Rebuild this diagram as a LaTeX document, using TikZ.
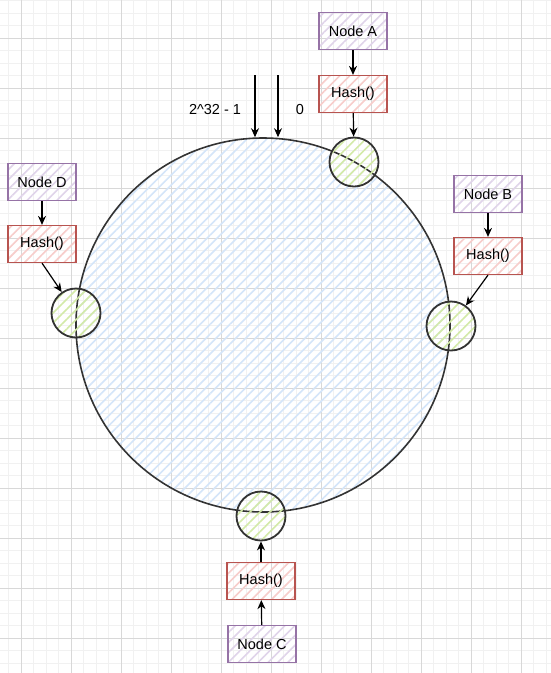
\documentclass[tikz,border=0pt]{standalone}
\usepackage{fontspec}
\setmainfont{Liberation Sans}
\usetikzlibrary{arrows.meta,patterns.meta}
\definecolor{gridminor}{HTML}{F1F1F1}
\definecolor{gridmajor}{HTML}{D8D8D8}
\definecolor{ringline}{HTML}{333333}
\definecolor{ringhatch}{HTML}{D4E5F9}
\definecolor{slothatch}{HTML}{D3EAA8}
\definecolor{nodeline}{HTML}{9673A6}
\definecolor{nodehatch}{HTML}{E0D4EA}
\definecolor{hashline}{HTML}{B85450}
\definecolor{hashhatch}{HTML}{F7CDCB}
\begin{document}
\begin{tikzpicture}[x=1pt,y=-1pt,font=\fontsize{14.5}{17}\selectfont,
        hatch/.style={pattern={Lines[angle=45,distance=7pt,line width=1.6pt]},pattern color=#1},
        ring/.style={circle,draw=ringline,line width=1.6pt,hatch=ringhatch,minimum size=374pt,inner sep=0pt},
        slot/.style={circle,draw=ringline,line width=1.8pt,hatch=slothatch,minimum size=49pt,inner sep=0pt},
        box/.style={draw=#1line,line width=1.2pt,hatch=#1hatch,minimum width=68pt,minimum height=37pt,inner sep=0pt},
        conn/.style={-{Stealth[length=9pt,width=8pt]},line width=1.2pt}]
    \useasboundingbox (0,0) rectangle (551,673);
    \fill[white] (0,0) rectangle (551,673);
    \foreach \k in {0,...,43} \draw[gridminor,line width=1pt] (8.5+12.5*\k,0) -- ++(0,673);
    \foreach \k in {0,...,53} \draw[gridminor,line width=1pt] (0,0.5+12.5*\k) -- ++(551,0);
    \foreach \k in {0,...,10} \draw[gridmajor,line width=1pt] (21+50*\k,0) -- ++(0,673);
    \foreach \k in {0,...,12} \draw[gridmajor,line width=1pt] (0,38+50*\k) -- ++(551,0);

    \node[ring] (ring) at (263,325) {};
    \node[slot] (slotA) at (354,162) {};
    \node[slot] (slotB) at (451,326) {};
    \node[slot] (slotC) at (261,516) {};
    \node[slot] (slotD) at (76,313) {};

    \node[box=node] (nodeA) at (353,31) {Node A};
    \node[box=hash] (hashA) at (353,94) {Hash()};
    \node[box=node] (nodeB) at (488,194) {Node B};
    \node[box=hash] (hashB) at (488,256) {Hash()};
    \node[box=hash] (hashC) at (261,581) {Hash()};
    \node[box=node] (nodeC) at (262,644) {Node C};
    \node[box=node] (nodeD) at (42,182) {Node D};
    \node[box=hash] (hashD) at (42,244) {Hash()};

    \draw[conn] (nodeA) -- (hashA);
    \draw[conn] (hashA) -- (slotA);
    \draw[conn] (nodeB) -- (hashB);
    \draw[conn] (hashB.south) -- (slotB);
    \draw[conn] (nodeC) -- (hashC);
    \draw[conn] (hashC) -- (slotC);
    \draw[conn] (nodeD) -- (hashD);
    \draw[conn] (hashD.south) -- (slotD);

    \node (maxLabel) at (215,110) {2\textasciicircum 32 - 1};
    \node (zeroLabel) at (300,110) {0};
    \coordinate (maxStart) at (255,75);
    \coordinate (zeroStart) at (278,75);
    \draw[conn] (maxStart) -- (maxStart |- ring.north);
    \draw[conn] (zeroStart) -- (zeroStart |- ring.north);
\end{tikzpicture}
\end{document}
